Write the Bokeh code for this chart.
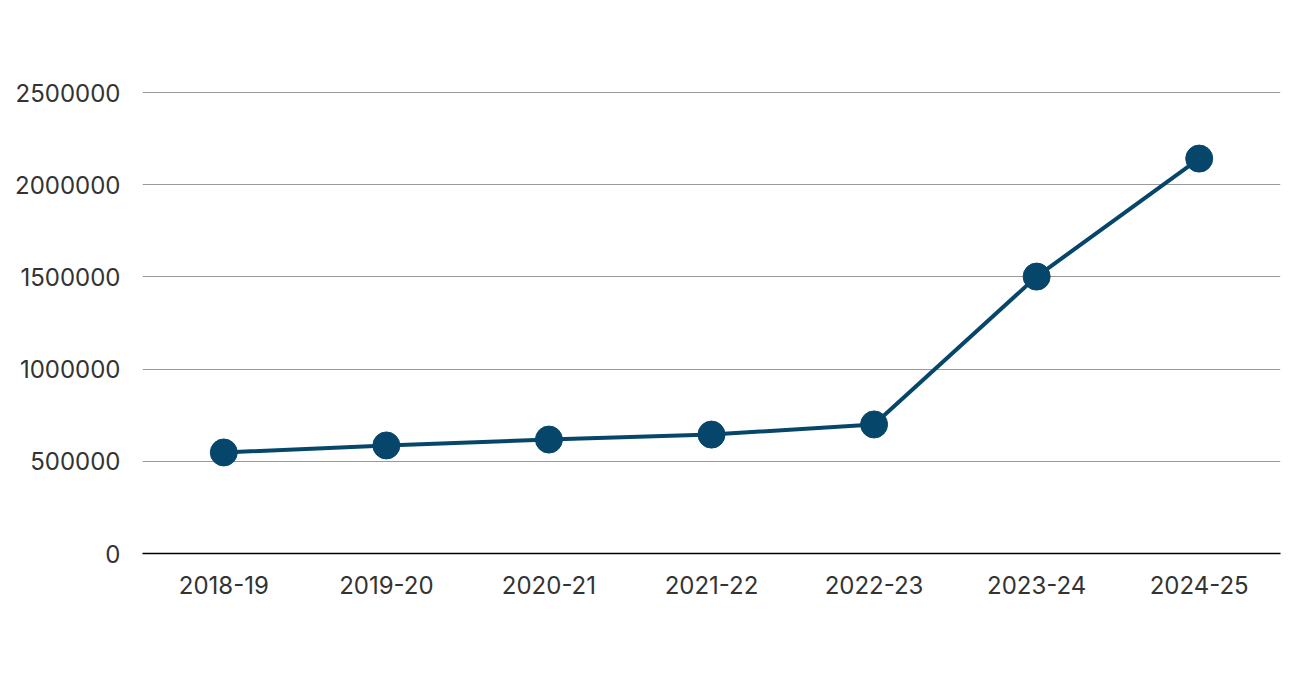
from bokeh.plotting import figure
from bokeh.models import ColumnDataSource, FixedTicker, Range1d
from bokeh.embed import file_html
from bokeh.resources import INLINE

# yearly totals
years = ["2018-19", "2019-20", "2020-21", "2021-22", "2022-23", "2023-24", "2024-25"]
totals = [548000, 586000, 618000, 645000, 700000, 1502000, 2142000]
y_ticks = [0, 500000, 1000000, 1500000, 2000000, 2500000]

NAVY = "#06466a"
FONT = "Inter"

source = ColumnDataSource(data=dict(year=years, total=totals))

p = figure(x_range=years, y_range=Range1d(0, 2750000),
           width=1293, height=659, output_backend="svg", toolbar_location=None,
           min_border_left=142, min_border_right=13, min_border_top=46, min_border_bottom=106)
p.outline_line_color = None
p.background_fill_color = "white"
p.border_fill_color = "white"

p.line(x="year", y="total", source=source, line_width=4, line_color=NAVY)
p.scatter(x="year", y="total", source=source, size=27, fill_color=NAVY, line_color=NAVY)

# y axis: numbers only, gray grid lines
p.yaxis.ticker = FixedTicker(ticks=y_ticks)
p.yaxis.formatter.use_scientific = False
p.yaxis.axis_line_color = None
p.yaxis.major_tick_line_color = None
p.yaxis.minor_tick_line_color = None
p.yaxis.major_label_standoff = 16
p.yaxis.major_label_text_font = FONT
p.yaxis.major_label_text_font_size = "24px"
p.yaxis.major_label_text_color = "#333333"
p.ygrid.grid_line_color = "#9a9a9a"
p.ygrid.grid_line_width = 1
p.xgrid.grid_line_color = None

# x axis: black base line
p.xaxis.axis_line_color = "black"
p.xaxis.axis_line_width = 1.5
p.xaxis.major_tick_line_color = None
p.xaxis.minor_tick_line_color = None
p.xaxis.major_label_standoff = 16
p.xaxis.major_label_text_font = FONT
p.xaxis.major_label_text_font_size = "24px"
p.xaxis.major_label_text_color = "#333333"
p.x_range.range_padding = 0

open("out.html", "w").write(file_html(p, INLINE))
